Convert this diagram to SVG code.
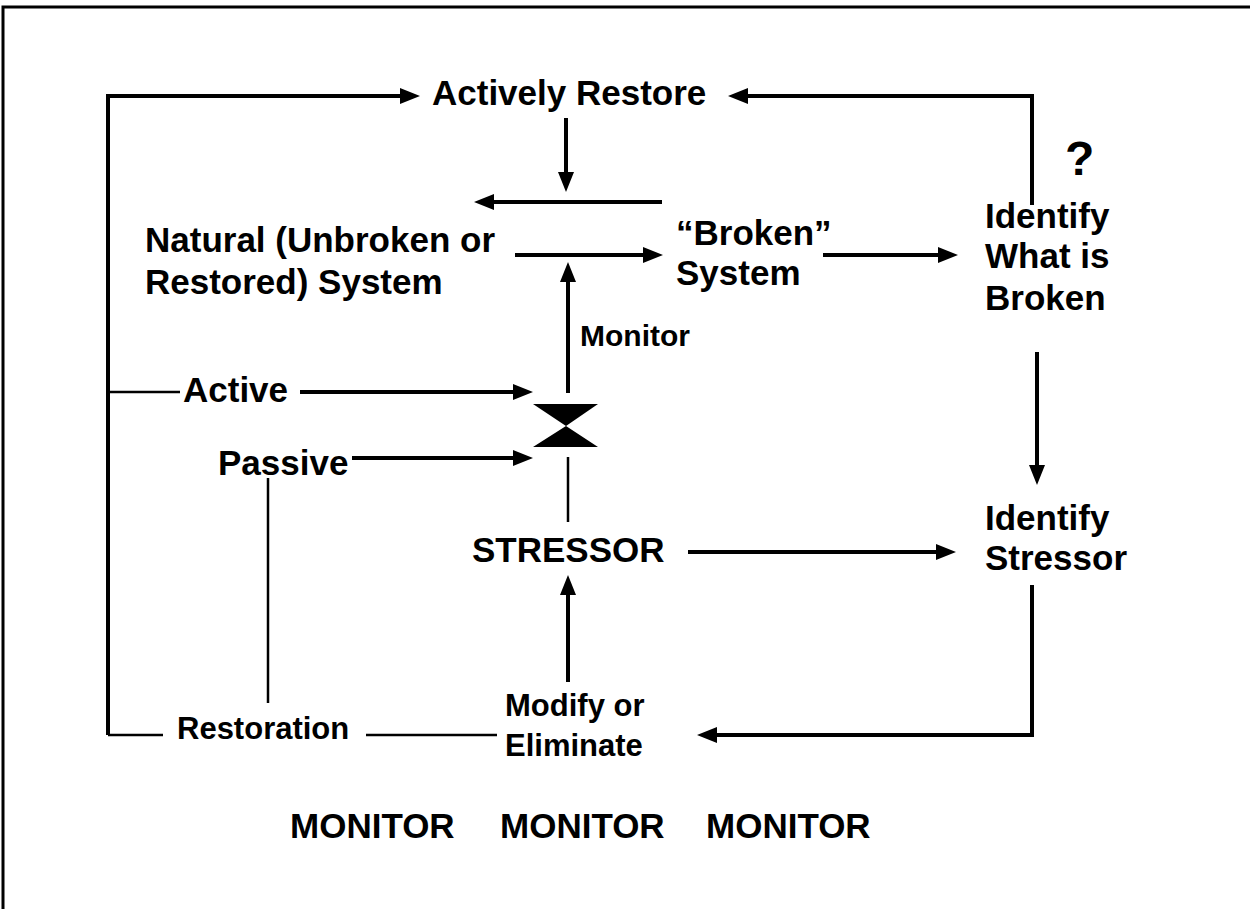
<svg xmlns="http://www.w3.org/2000/svg" width="1250" height="909" viewBox="0 0 1250 909">
<style>
text{font-family:"Liberation Sans",Arial,sans-serif;font-weight:bold;fill:#000}
.t35{font-size:35px}
.t31{font-size:31px}
.t30{font-size:30px}
.a{fill:none;stroke:#000;stroke-width:4;marker-end:url(#ah)}
.thin{fill:none;stroke:#000;stroke-width:2.5}
</style>
<defs>
<marker id="ah" markerUnits="userSpaceOnUse" markerWidth="24" markerHeight="20" viewBox="-2 -10 24 20" refX="0" refY="0" orient="auto">
<path d="M-1,-8 L19,0 L-1,8 z" fill="#000"/>
</marker>
</defs>
<rect width="1250" height="909" fill="#fff"/>
<path d="M3,909 V7 H1250" fill="none" stroke="#000" stroke-width="3"/>
<g id="connectors">
<path class="a" d="M108,735 V96 H401"/>
<path class="a" d="M1032,205 V96 H747"/>
<path class="a" d="M566,118 V173"/>
<path class="a" d="M662,202 H493"/>
<path class="a" d="M515,255 H644"/>
<path class="a" d="M568,393 V281"/>
<path class="a" d="M823,255 H939"/>
<path class="a" d="M1037,352 V466"/>
<path class="thin" d="M108,392 H180"/>
<path class="a" d="M300,392 H514"/>
<path class="a" d="M352,458 H514"/>
<path class="thin" d="M268,478 V703"/>
<path class="thin" d="M568,457 V522"/>
<path class="a" d="M688,552 H937"/>
<path class="a" d="M1032,585 V735 H716"/>
<path class="a" d="M568,682 V594"/>
<path class="thin" d="M108,735 H163 M366,735 H497"/>
</g>
<g id="valve"><path d="M533,404 H598 L566,426 Z M566,426 L598,447 H533 Z" fill="#000"/></g>
<g id="actively-restore"><text class="t35" x="432" y="105">Actively Restore</text></g>
<g id="question"><text x="1065" y="175" style="font-size:48px">?</text></g>
<g id="natural"><text class="t35" x="145" y="252">Natural (Unbroken or</text><text class="t35" x="145" y="294">Restored) System</text></g>
<g id="broken"><text class="t35" x="676" y="245">“Broken”</text><text class="t35" x="676" y="285">System</text></g>
<g id="identify-broken"><text class="t35" x="985" y="228">Identify</text><text class="t35" x="985" y="268">What is</text><text class="t35" x="985" y="310">Broken</text></g>
<g id="monitor"><text class="t30" x="580" y="346">Monitor</text></g>
<g id="active"><text class="t35" x="183" y="402">Active</text></g>
<g id="passive"><text class="t35" x="218" y="475">Passive</text></g>
<g id="stressor"><text class="t35" x="472" y="562">STRESSOR</text></g>
<g id="identify-stressor"><text class="t35" x="985" y="530">Identify</text><text class="t35" x="985" y="570">Stressor</text></g>
<g id="modify"><text class="t31" x="505" y="716">Modify or</text><text class="t31" x="505" y="756">Eliminate</text></g>
<g id="restoration"><text class="t31" x="177" y="739">Restoration</text></g>
<g id="monitors"><text class="t35" x="290" y="838">MONITOR</text><text class="t35" x="500" y="838">MONITOR</text><text class="t35" x="706" y="838">MONITOR</text></g>
</svg>
